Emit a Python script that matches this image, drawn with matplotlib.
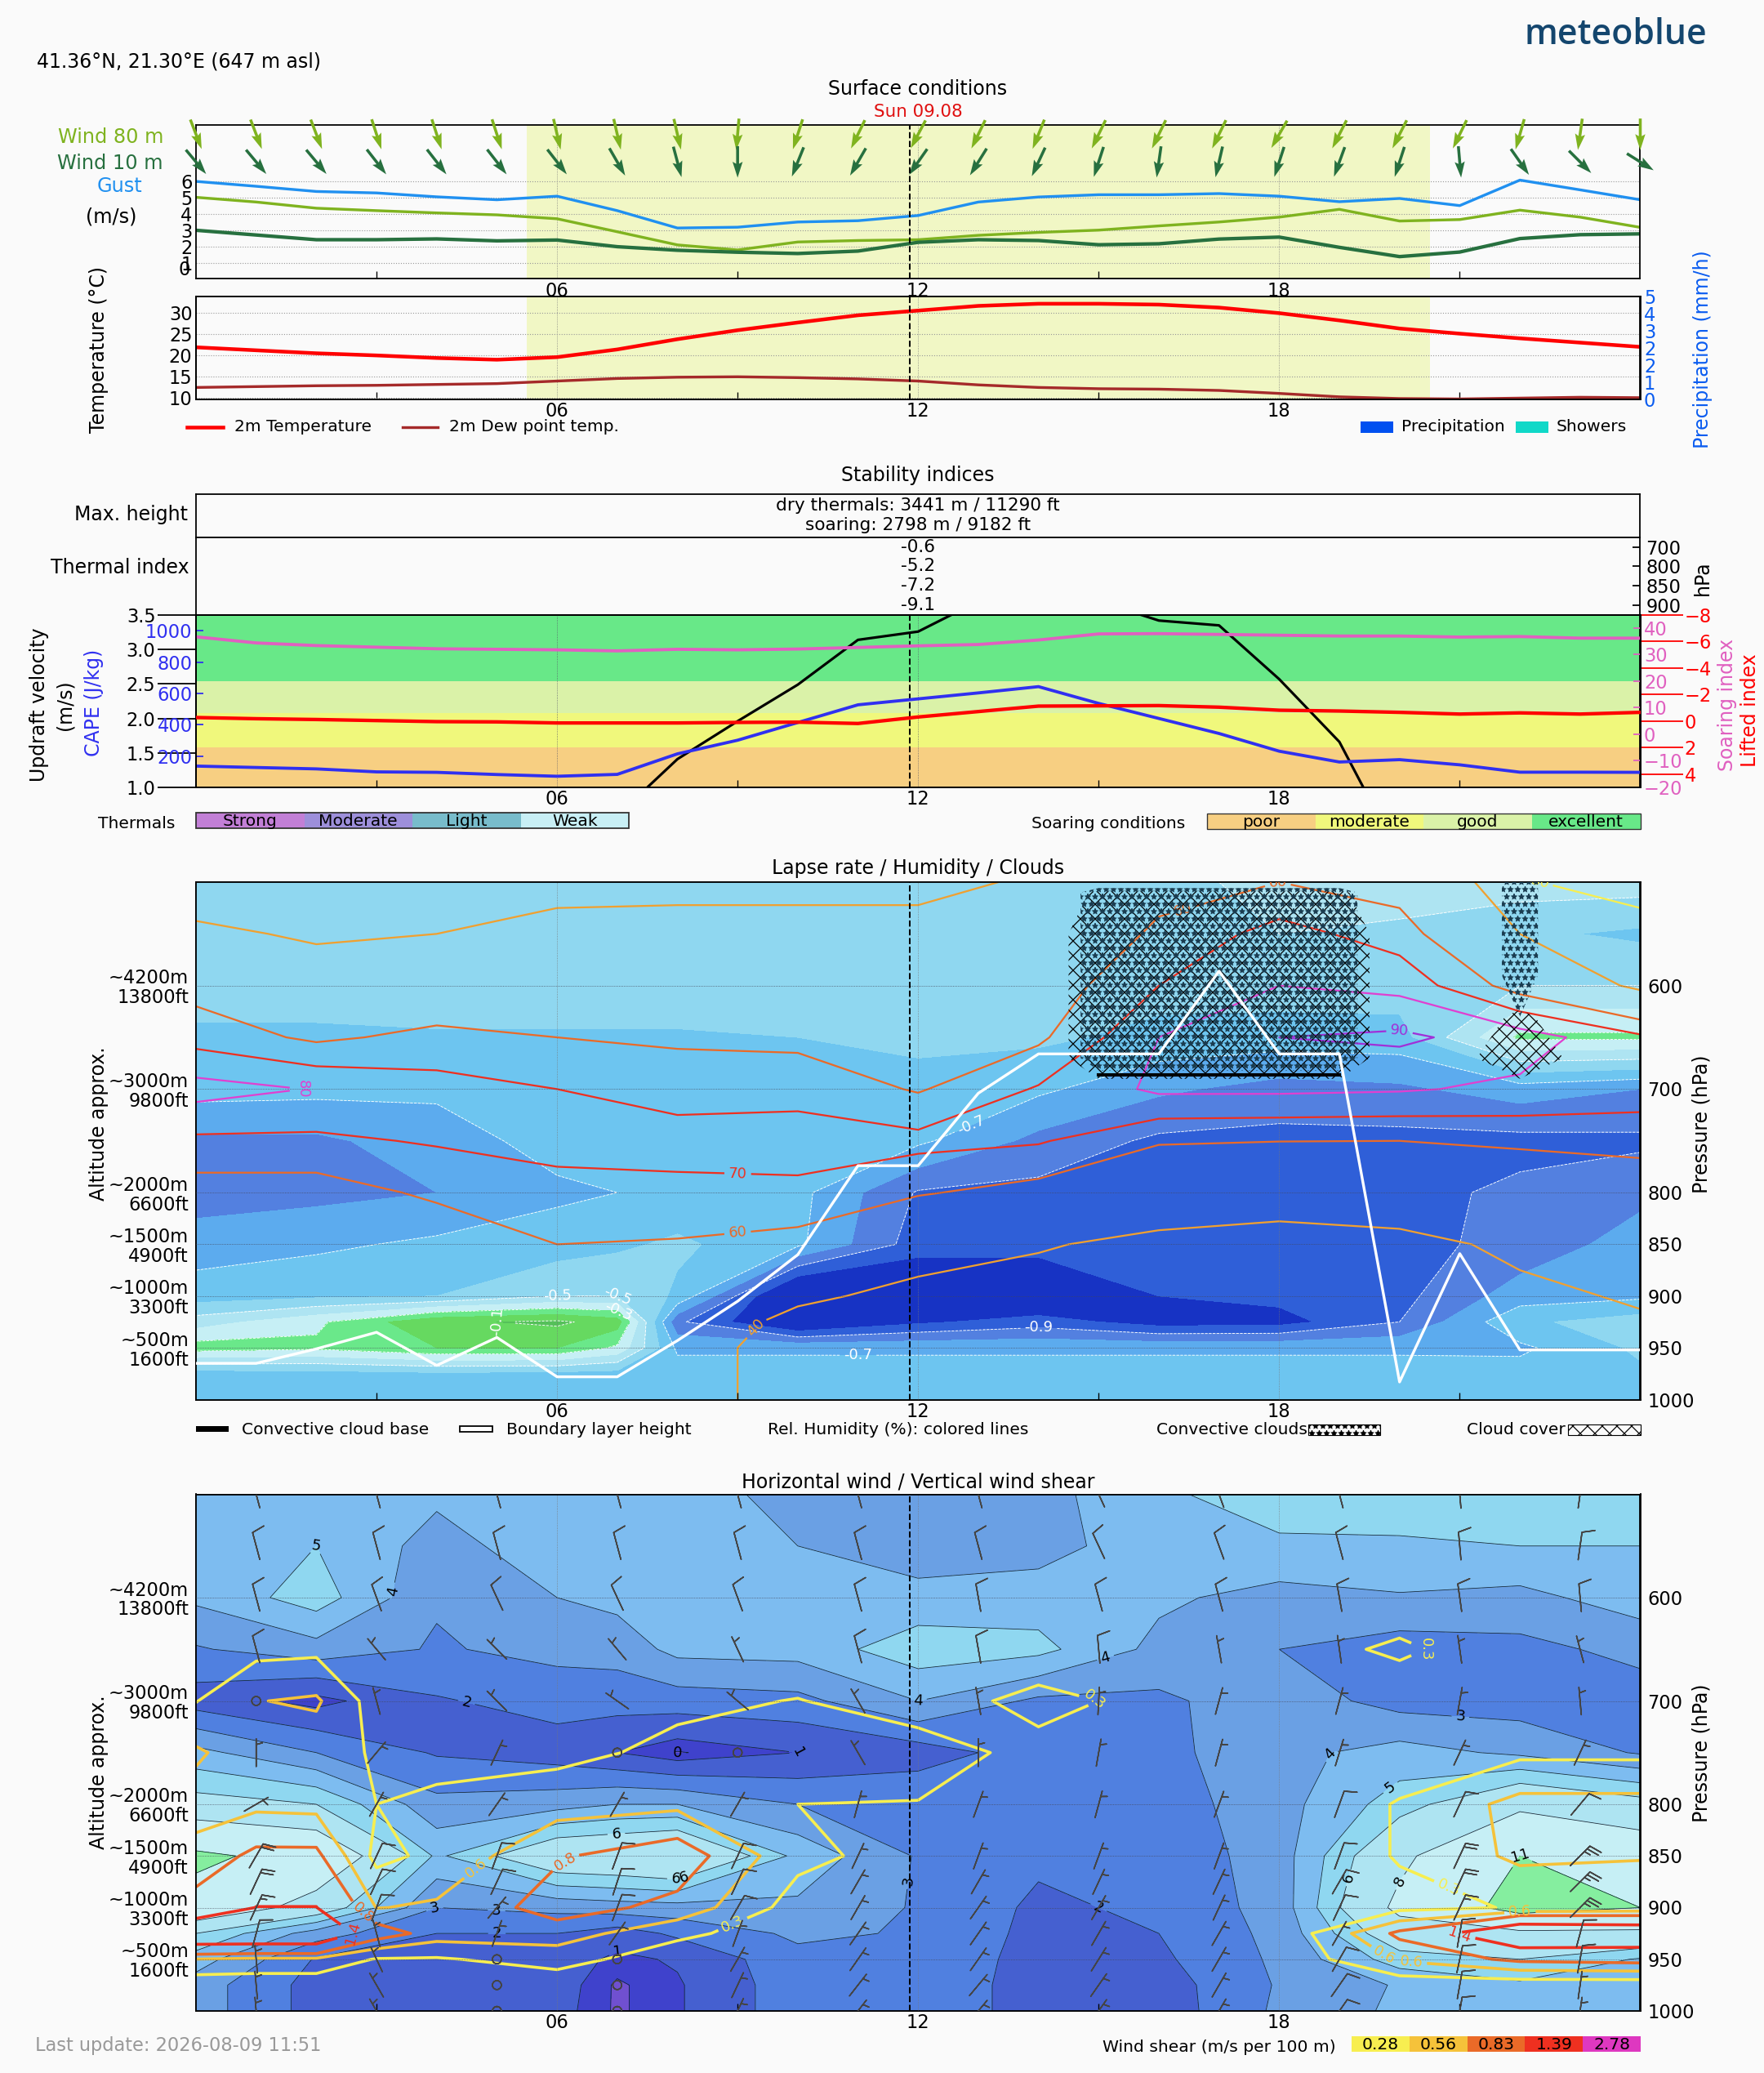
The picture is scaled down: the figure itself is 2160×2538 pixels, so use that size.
import numpy as np
import matplotlib
matplotlib.use('Agg')
import matplotlib.pyplot as plt
from matplotlib.patches import Rectangle

W, H = 2160, 2538
DPI = 162
BG = '#fafafa'

hours = list(range(25))
now_hour = 11.86
day_start, day_end = 5.5, 20.5

gust = [6.0,5.7,5.38,5.29,5.05,4.87,5.09,4.2,3.13,3.18,3.5,3.58,3.9,4.73,5.04,5.18,5.18,5.25,5.09,4.75,4.95,4.51,6.08,5.48,4.87]
wind80 = [5.02,4.73,4.35,4.2,4.06,3.94,3.7,2.9,2.09,1.78,2.27,2.36,2.41,2.68,2.86,3.0,3.26,3.5,3.8,4.28,3.56,3.65,4.23,3.8,3.17]
wind10 = [2.99,2.7,2.41,2.41,2.46,2.34,2.39,1.98,1.76,1.64,1.56,1.71,2.25,2.41,2.36,2.1,2.16,2.45,2.57,1.94,1.37,1.65,2.48,2.72,2.77]
dir80 = [339,339,339,342,342,342,347,347,347,5,18,26,28,26,22,26,26,26,30,27,27,26,16,8,0]
dir10 = [320,320,320,322,322,322,322,330,345,360,22,30,35,32,25,18,8,13,18,20,18,355,325,315,302]

temp2m = [21.9,21.2,20.5,20.0,19.4,19.0,19.6,21.4,23.8,25.9,27.7,29.4,30.5,31.6,32.1,32.1,31.9,31.2,29.9,28.2,26.3,25.1,24.0,23.0,22.0]
dew2m = [12.5,12.7,12.9,13.0,13.2,13.4,14.0,14.6,14.9,15.0,14.8,14.5,14.0,13.1,12.5,12.2,12.1,11.8,11.1,10.3,9.9,9.8,10.0,10.2,10.1]
precip_ticks = ['0','1','2','2','3','4','5']

updraft = [0.5,0.5,0.5,0.5,0.5,0.5,0.5,0.59,1.41,1.96,2.49,3.14,3.26,3.7,3.9,3.7,3.42,3.35,2.57,1.66,0.0,0.0,0.0,0.0,0.0]
cape = [136,127,118,99,96,82,71,83,214,301,414,527,565,603,643,536,440,344,231,162,177,144,97,97,96]
soaring = [36.7,34.4,33.4,32.8,32.2,32.0,31.8,31.4,32.0,31.8,32.1,32.7,33.3,33.8,35.5,37.8,37.9,37.6,37.3,37.0,37.0,36.6,36.8,36.2,36.2]
lifted = [-0.27,-0.18,-0.12,-0.04,0.04,0.06,0.14,0.14,0.14,0.1,0.08,0.18,-0.31,-0.72,-1.13,-1.15,-1.17,-1.05,-0.82,-0.76,-0.66,-0.53,-0.62,-0.53,-0.66]
soaring_edges = [1.0,1.585,2.08,2.54,3.5]
soaring_names = ['poor','moderate','good','excellent']
soaring_colors = ['#f7cf82','#f0f87c','#daf2a8','#68e888']
thermal_names = ['Strong','Moderate','Light','Weak']
thermal_colors = ['#c27fd6','#9d8fda','#78bccb','#c8eff5']
thermal_index = ['-0.6','-5.2','-7.2','-9.1']
thermal_hpa = [700,800,850,900]

pressure = [1000,975,950,925,900,850,800,750,700,650,600,550,500]
lapse_hours = [0,2,4,6,7,8,10,12,14,16,18,20,22,24]
rh_hours = [0,2,4,6,8,10,12,14,16,18,20,22,24]
wind_hours = [0,2,4,6,7,8,10,12,14,16,18,20,22,24]
shear_hours = [0,1,2,3,4,6,8,10,12,14,16,18,20,22,24]

# columns run from 1000 hPa up to 500 hPa
lapse_rate = np.array([
    [-.65,-.65,-.25,-.45,-.65,-.75,-.85,-.82,-.66,-.62,-.55,-.55,-.55],
    [-.65,-.64,-.28,-.32,-.62,-.72,-.83,-.82,-.67,-.62,-.55,-.55,-.55],
    [-.65,-.62,-.2,-.12,-.6,-.68,-.8,-.75,-.68,-.61,-.55,-.55,-.55],
    [-.65,-.63,-.2,-.08,-.5,-.65,-.72,-.66,-.63,-.61,-.55,-.55,-.55],
    [-.65,-.64,-.32,-.15,-.5,-.62,-.7,-.66,-.63,-.61,-.55,-.55,-.55],
    [-.65,-.65,-.72,-.88,-.62,-.58,-.68,-.66,-.63,-.61,-.55,-.55,-.55],
    [-.65,-.65,-.72,-1.15,-1.2,-.68,-.67,-.63,-.62,-.6,-.55,-.55,-.55],
    [-.65,-.65,-.72,-1.02,-1.15,-.95,-.91,-.68,-.63,-.58,-.55,-.55,-.55],
    [-.65,-.65,-.72,-.95,-1.15,-.95,-.93,-.83,-.68,-.58,-.55,-.55,-.55],
    [-.65,-.65,-.72,-1.05,-1.0,-.95,-.93,-.92,-.78,-.63,-.56,-.55,-.52],
    [-.65,-.65,-.72,-1.04,-.97,-.95,-.93,-.93,-.84,-.65,-.55,-.5,-.48],
    [-.65,-.65,-.72,-.9,-.93,-.93,-.93,-.93,-.82,-.64,-.55,-.52,-.45],
    [-.65,-.66,-.72,-.62,-.75,-.87,-.88,-.93,-.75,-.28,-.5,-.58,-.45],
    [-.65,-.62,-.58,-.55,-.72,-.75,-.83,-.92,-.8,-.28,-.5,-.62,-.45],
]).T
lapse_levels = [-1.3,-1.0,-.9,-.8,-.7,-.6,-.5,-.4,-.3,-.2,-.1,0]
lapse_colors = ['#1733c4','#2f5fd8','#5380e0','#5cabee','#6dc5f0','#8fd7f0','#aee4f2','#c6eff5','#6ae88a','#66d960','#55c05a']
lapse_lines = [-.9,-.7,-.5,-.3,-.1]

humidity = np.array([
    [50,50,50,50,50,53,55,68,84,66,56,43,31],
    [50,50,50,50,50,50,55,68,79.5,58,48,38,31],
    [50,50,50,50,50,52,62,71,74,63,50,40,31],
    [46,46,48,50,52,60,67,73,70,60,53,45,35],
    [44,44,44,47,50,59,68,73,67,58,52,45,36],
    [36,36,36,37,42,56,68,74,67,57,52,45,36],
    [35,35,35,35,37,45,61,73,59,54,50,45,36],
    [33,33,33,34,35,41,56,71,71,58,53,48,42],
    [31,31,31,31,32,37,48,61,82,80,70,62,56],
    [31,31,31,31,32,36,45,60.2,82,90,80,74,60],
    [31,31,31,31,33,37,47,60,81,92,77,65,55],
    [32,33,33,35,38,42,47,62.5,78,85,55,40,31],
    [32,33,36,39,41,44,50,65,74,72,37,35,25],
]).T
humidity_levels = [30,40,60,70,80,90]
humidity_colors = ['#f7ee50','#f0a030','#ea6a28','#ee3020','#e040d0','#a030d8']

blh = [965,965,951,935,967,940,978,978,943,905,860,774,774,704,666,666,666,586,666,666,983,859,952,952,952]
cloud_base = [np.nan]*15 + [686,686,686,686,686] + [np.nan]*5

cloud_pressure = [710,670,630,590,550,510,500]
cloud_cover = np.array([
    [0]*25,
    [0]*15 + [1]*5 + [0,.3,1,.3,0],
    [0]*15 + [1]*5 + [0,.2,.6,.2,0],
    [0]*15 + [1]*5 + [0]*5,
    [0]*15 + [1]*5 + [0]*5,
    [0]*15 + [.6]*5 + [0]*5,
    [0]*25,
])
convective = np.array([
    [0]*25,
    [0]*15 + [1]*5 + [0]*5,
    [0]*15 + [1]*5 + [0,0,.7,0,0],
    [0]*15 + [1]*5 + [0,0,1,0,0],
    [0]*15 + [1]*5 + [0,0,1,0,0],
    [0]*15 + [1]*5 + [0,0,1,0,0],
    [0]*15 + [.3]*5 + [0,0,1,0,0],
])

wind_speed = np.array([
    [3.5,3.5,4.5,6,10,11.5,6.5,4.3,1.5,2.9,4.2,4.5,4.5],
    [1.6,1.6,1.9,3.5,7,10,6,3,.7,3.6,5.5,5,4.5],
    [1.5,1.5,1.6,2,3,4.8,3.3,1.9,1.9,2.9,3.1,3.6,4.2],
    [1.3,1.4,1.5,2,3.3,7.3,3.6,1.5,2.4,3.3,4,4.6,4.6],
    [.4,.4,.8,1.5,3.5,7.5,4,1.0,2.4,3.4,4.3,4.7,4.6],
    [.9,.9,1.1,2.2,3.6,8.0,4.0,.45,2.5,4.3,4.7,4.6,4.4],
    [2.6,2.6,2.7,3.2,3.8,4.7,3.0,1.0,2.7,4.4,4.5,4.0,3.7],
    [2.8,2.8,2.8,2.9,2.9,2.9,2.9,1.5,4.0,5.6,4.3,3.5,3.5],
    [1.5,1.5,1.6,1.7,1.8,2.2,2.5,2.5,2.8,5.3,4.5,3.6,3.6],
    [1.4,1.5,1.8,2.0,2.2,2.3,2.5,2.7,2.8,3.7,4.2,4.6,4.9],
    [3.2,3.1,3.2,3.3,3.4,3.5,3.6,3.7,3.6,3.0,3.6,4.9,5.3],
    [4.2,4.1,5.5,7,8.5,7.5,5.5,4.4,2.6,2.5,3.9,4.9,5.4],
    [4.6,4.8,6,7.5,12,11,7.5,3.8,2.5,2.7,3.7,5,5.3],
    [4.5,4.5,4.9,7.5,11,9.5,6.5,2.9,2.5,3.3,4.5,5,5.4],
]).T
wind_levels = [0,.5,1,2,3,4,5,6,8,11,20]
wind_colors = ['#7050d0','#3f42cc','#4560d0','#5080e0','#6aa0e4','#7dbcf0','#8fd7f0','#aee4f2','#c6eff5','#85ee9f']

shear = np.array([
    [.05,.1,.55,2.0,.95,.65,.45,.6,.27,.2,.1,.05,.05],
    [.05,.1,.5,2.0,1.4,.9,.5,.4,.55,.2,.1,.05,.05],
    [.05,.1,.5,2.0,1.4,.9,.48,.4,.6,.22,.1,.05,.05],
    [.05,.1,.26,1.0,.55,.2,.28,.25,.15,.1,.05,.05,.05],
    [.05,.1,.25,.7,.6,.35,.33,.2,.15,.1,.05,.05,.05],
    [.05,.1,.4,.7,.95,.8,.45,.2,.1,.05,.05,.05,.05],
    [.05,.05,.1,.35,.75,1.0,.5,.35,.22,.1,.05,.05,.05],
    [.05,.05,.05,.1,.15,.36,.28,.35,.29,.1,.05,.05,.05],
    [.05,.05,.05,.05,.1,.15,.27,.4,.15,.1,.05,.05,.05],
    [.05,.05,.05,.05,.05,.05,.05,.2,.36,.1,.05,.05,.05],
    [.05,.05,.05,.05,.05,.05,.05,.1,.2,.1,.05,.05,.05],
    [.05,.05,.05,.05,.05,.05,.05,.05,.05,.15,.05,.05,.05],
    [.05,.1,.6,.9,.2,.3,.3,.12,.1,.33,.1,.05,.05],
    [.05,.1,.9,2.0,.3,.62,.65,.22,.1,.1,.05,.05,.05],
    [.05,.1,.95,1.9,.35,.58,.65,.22,.1,.1,.05,.05,.05],
]).T
shear_levels = [.28,.56,.83,1.39,2.78]
shear_colors = ['#f7ee50','#f5c23a','#ea6a28','#ee3020','#de38c0']
shear_names = ['0.28','0.56','0.83','1.39','2.78']

barb_hours = [1,3,5,7,9,11,13,15,17,19,21,23]
barb_pressure = [1000,975,950,925,900,875,850,800,750,700,650,600,550,500]
barb_speed = np.array([
    [5,5,0,0,5,5,5,5,5,10,10,5],
    [5,5,0,0,5,5,5,5,5,10,10,5],
    [5,5,0,0,5,5,5,5,5,10,10,10],
    [10,5,5,5,5,5,5,5,5,5,10,10],
    [15,10,5,10,10,5,5,5,5,10,15,25],
    [20,10,10,10,10,5,5,5,5,10,20,25],
    [20,10,10,10,10,5,5,5,5,10,20,25],
    [5,5,5,5,5,5,5,5,5,10,10,10],
    [5,5,5,0,0,5,5,5,5,5,5,5],
    [0,5,5,5,5,5,5,5,5,5,5,5],
    [10,5,5,5,5,10,10,10,5,5,5,5],
    [10,10,10,10,10,10,10,10,10,10,10,10],
    [10,10,10,10,10,10,10,10,10,10,10,10],
    [10,10,10,10,10,10,10,10,10,10,10,10],
])
barb_dir = np.array([
    [355,330,0,0,25,38,40,35,30,35,10,8],
    [355,330,0,0,25,38,40,35,30,35,10,8],
    [355,335,0,0,30,35,35,32,30,30,12,10],
    [15,345,20,35,20,35,35,30,30,30,10,15],
    [25,20,40,20,30,30,35,30,25,25,25,45],
    [25,25,25,18,25,30,30,25,25,30,25,45],
    [30,25,20,20,25,25,20,20,20,20,25,45],
    [60,30,35,30,30,15,20,15,20,20,25,40],
    [0,40,25,0,0,330,0,10,15,17,25,25],
    [0,345,315,305,310,330,350,3,15,15,10,355],
    [345,320,315,320,335,345,350,355,350,352,352,345],
    [345,340,335,335,340,345,350,345,345,350,352,355],
    [345,345,345,345,345,345,345,335,340,345,355,8],
    [345,345,345,345,345,345,345,335,340,345,355,8],
])

alt_ticks = [600,700,800,850,900,950]
alt_labels = ['~4200m\n13800ft','~3000m\n9800ft','~2000m\n6600ft','~1500m\n4900ft','~1000m\n3300ft','~500m\n1600ft']
hpa_ticks = [600,700,800,850,900,950,1000]

plt.rcParams['font.size'] = 10
plt.rcParams['hatch.linewidth'] = 0.55
plt.rcParams['axes.facecolor'] = BG

fig = plt.figure(figsize=(W / DPI, H / DPI), dpi=DPI, facecolor=BG)


def panel(top, bottom):
    # axes placed from pixel rows of the 2160 wide page
    ax = fig.add_axes([240 / W, 1 - bottom / H, (2008.5 - 240) / W, (bottom - top) / H])
    ax.set_xlim(0, 24)
    ax.set_xticks([6, 12, 18])
    ax.set_xticklabels(['06', '12', '18'])
    ax.set_xticks([3, 9, 15, 21], minor=True)
    ax.tick_params(axis='x', which='major', direction='in', length=0, pad=1.5)
    ax.tick_params(axis='x', which='minor', direction='in', length=4, width=0.6)
    ax.grid(axis='x', color='#777', lw=0.35, ls=':')
    ax.grid(axis='y', color='#999', lw=0.5, ls=':')
    ax.axvline(now_hour, color='k', lw=0.9, ls='--', zorder=8)
    return ax


def pressure_axes(ax):
    ax.set_ylim(1000, 500)
    ax.set_yticks(alt_ticks)
    ax.set_yticklabels(alt_labels, linespacing=1.05)
    ax.tick_params(axis='y', length=0, pad=4)
    ax.grid(axis='y', color='#445', lw=0.35, ls=':')
    ax2 = ax.twinx()
    ax2.set_ylim(1000, 500)
    ax2.set_yticks(hpa_ticks)
    ax2.tick_params(axis='y', length=0, pad=4)
    return ax2


# surface wind
ax1 = panel(152.5, 341.4)
ax1.set_ylim(0, 9.5)
ax1.set_yticks([1, 2, 3, 4, 5, 6])
ax1.set_yticklabels(['1', '2', '3', '4', '5', '6'])
ax1.tick_params(axis='y', length=0, pad=2)
ax1.text(-0.1, 0.55, '0', ha='right', va='center')
ax1.axvspan(day_start, day_end, color='#f1f7c5', lw=0, zorder=0)
ax1.plot(hours, gust, color='#2090f0', lw=1.5)
ax1.plot(hours, wind80, color='#7fb31f', lw=1.5)
ax1.plot(hours, wind10, color='#27703f', lw=1.9)
for rowy, dirs, col in [(8.9, dir80, '#7fb31f'), (7.2, dir10, '#27703f')]:
    rad = np.deg2rad(dirs)
    ax1.quiver(hours, [rowy] * 25, -np.sin(rad), -np.cos(rad), color=col, angles='uv', pivot='middle',
               scale_units='inches', scale=4.2, width=0.002, headwidth=3.5, headlength=5.5, headaxislength=4.8,
               clip_on=False, zorder=6)

# temperature
ax2 = panel(363, 489)
ax2.set_ylim(9.7, 33.8)
ax2.set_yticks([10, 15, 20, 25, 30])
ax2.tick_params(axis='y', length=0, pad=2)
ax2.axvspan(day_start, day_end, color='#f1f7c5', lw=0, zorder=0)
ax2.plot(hours, temp2m, color='#ff0000', lw=2.0)
ax2.plot(hours, dew2m, color='#a52a2a', lw=1.5)
ax2b = ax2.twinx()
ax2b.set_ylim(0, 6)
ax2b.set_yticks(range(7))
ax2b.set_yticklabels(precip_ticks, color='#0a5cf0')
ax2b.tick_params(axis='y', length=0, pad=2)

# stability
ax_box = fig.add_axes([240 / W, 1 - 658 / H, (2008.5 - 240) / W, (658 - 605) / H])
ax_box.set_xticks([])
ax_box.set_yticks([])
ax_top = fig.add_axes([240 / W, 1 - 753 / H, (2008.5 - 240) / W, (753 - 658) / H])
ax_top.set_xticks([])
ax_top.set_ylim(753, 658)
ax_top.yaxis.tick_right()
ax_top.set_yticks([670, 693, 717, 741])
ax_top.set_yticklabels(thermal_hpa)
ax_top.tick_params(axis='y', direction='in', length=4, pad=3)

ax3 = panel(753, 964)
ax3.grid(False)
ax3.axvline(6, color='#556', lw=0.35, ls=':', zorder=3)
ax3.axvline(12, color='#556', lw=0.35, ls=':', zorder=3)
ax3.set_ylim(1, 3.5)
ax3.set_yticks([1, 1.5, 2, 2.5, 3, 3.5])
ax3.set_yticklabels(['1.0', '1.5', '2.0', '2.5', '3.0', '3.5'])
ax3.tick_params(axis='y', direction='out', length=21, pad=1)
for i in range(4):
    ax3.axhspan(soaring_edges[i], soaring_edges[i + 1], color=soaring_colors[i], lw=0, zorder=0)
ax3.plot(hours, updraft, color='k', lw=1.4, zorder=4)

ax3c = ax3.twinx()
ax3c.yaxis.tick_left()
ax3c.set_ylim(0, 1100)
ax3c.set_yticks([200, 400, 600, 800, 1000])
ax3c.tick_params(axis='y', direction='in', length=4, pad=2, colors='#3030f0')
ax3c.plot(hours, cape, color='#3030f0', lw=1.7, zorder=4)

ax3s = ax3.twinx()
ax3s.set_ylim(-20, 44.9)
ax3s.set_yticks([-20, -10, 0, 10, 20, 30, 40])
ax3s.tick_params(axis='y', direction='in', length=4, pad=2, colors='#e060c0')
ax3s.plot(hours, soaring, color='#e060c0', lw=1.7, zorder=4)

ax3l = ax3.twinx()
ax3l.set_ylim(5, -8)
ax3l.set_yticks([-8, -6, -4, -2, 0, 2, 4])
ax3l.tick_params(axis='y', direction='out', length=23, pad=1, colors='#ff0000')
ax3l.plot(hours, lifted, color='#ff0000', lw=1.9, zorder=4)

# lapse rate
ax4 = panel(1080, 1713.5)
ax4r = pressure_axes(ax4)
ax4.contourf(lapse_hours, pressure, lapse_rate, levels=lapse_levels, colors=lapse_colors)
lines = ax4.contour(lapse_hours, pressure, lapse_rate, levels=lapse_lines, colors='w', linewidths=0.4)
ax4.clabel(lines, fmt='%.1f', fontsize=8, colors='w',
           manual=[(6, 867), (7, 901), (7, 916), (5, 923), (11, 957), (13, 750), (14, 936)])
rh = ax4.contour(rh_hours, pressure, humidity, levels=humidity_levels, colors=humidity_colors, linewidths=1.0)
ax4.clabel(rh, fmt='%d', fontsize=8,
           manual=[(9, 787), (9, 839), (9.2, 925), (2, 700), (20, 640), (18, 505), (16.5, 549), (22, 505)])
ax4.contourf(hours, cloud_pressure, cloud_cover, levels=[.5, 2], colors='none', hatches=['xxx'], zorder=5)
with plt.rc_context({'hatch.color': '#1a3c50'}):
    ax4.contourf(hours, cloud_pressure, convective, levels=[.7, 2], colors='none', hatches=['***'], zorder=5)
ax4.plot(hours, blh, color='w', lw=1.5, zorder=6)
ax4.plot(hours, cloud_base, color='k', lw=1.8, zorder=6)
ax4.set_zorder(3)
ax4.set_axisbelow(False)

# wind and shear
ax5 = panel(1829.5, 2462)
ax5r = pressure_axes(ax5)
ax5.contourf(wind_hours, pressure, wind_speed, levels=wind_levels, colors=wind_colors)
wl = ax5.contour(wind_hours, pressure, wind_speed, levels=wind_levels[1:-1], colors='#123', linewidths=0.35)
ax5.clabel(wl, fmt={.5: '0', 1: '1', 2: '2', 3: '3', 4: '4', 5: '5', 6: '6', 8: '8', 11: '11'}, fontsize=8, colors='k',
           manual=[(2, 542), (3.7, 599), (4.5, 700), (10, 748), (8, 750), (12, 704), (7, 842), (8, 850), (8, 875),
                   (5, 896), (4, 907), (5, 920), (7, 938), (12, 875), (15, 900), (21, 725), (15, 634), (18.8, 750),
                   (19.8, 780), (22, 849), (19.4, 875), (20, 875)])
sl = ax5.contour(shear_hours, pressure, shear, levels=shear_levels, colors=shear_colors, linewidths=1.6)
ax5.clabel(sl, fmt={.28: '0.3', .56: '0.6', .83: '0.8', 1.39: '1.4', 2.78: '2.8'}, fontsize=8,
           manual=[(9, 927), (6, 842), (4.5, 850), (2.6, 925), (2.8, 903), (15, 683), (21, 647), (22, 897),
                   (21, 855), (19.7, 950), (20.2, 950), (21, 927)])
bx, by = np.meshgrid(barb_hours, barb_pressure)
brad = np.deg2rad(barb_dir)
ax5.barbs(bx, by, -barb_speed * np.sin(brad), -barb_speed * np.cos(brad), length=5.5, linewidth=0.7,
          color='#444444', pivot='middle', zorder=6, sizes={'height': 0.45, 'spacing': 0.14, 'emptybarb': 0.16})
ax5.set_zorder(3)
ax5.set_axisbelow(False)

# page overlay in pixels, for titles and legends
page = fig.add_axes([0, 0, 1, 1], zorder=20)
page.set_xlim(0, W)
page.set_ylim(H, 0)
page.axis('off')


def txt(x, y, s, ha='center', size=10.5, color='k', rot=0, **kw):
    page.text(x, y, s, ha=ha, va='center', fontsize=size, color=color, rotation=rot, **kw)


def legend_boxes(x0, x1, y0, y1, colors, names, size=9):
    step = (x1 - x0) / len(colors)
    for i, c in enumerate(colors):
        page.add_patch(Rectangle((x0 + i * step, y0), step, y1 - y0, color=c, lw=0))
        txt(x0 + (i + .5) * step, (y0 + y1) / 2 + 1, names[i], size=size)


txt(2090, 43, 'meteoblue', ha='right', size=19, color='#14466e', family='Open Sans', weight='semibold')
txt(45, 75, '41.36°N, 21.30°E (647 m asl)', ha='left')
txt(1124, 109, 'Surface conditions')
txt(1124, 137, 'Sun 09.08', color='#e01010', size=9.5)
txt(200, 168, 'Wind 80 m', ha='right', color='#7fb31f', size=10.7)
txt(200, 200, 'Wind 10 m', ha='right', color='#27703f', size=10.7)
txt(174, 228, 'Gust', ha='right', color='#2090f0', size=10.7)
txt(136, 266, '(m/s)', size=10.7)
txt(121, 428, 'Temperature (°C)', rot=90)
txt(2085, 428, 'Precipitation (mm/h)', rot=90, color='#0a5cf0')

page.plot([229, 273], [523, 523], color='#ff0000', lw=2)
txt(287, 523, '2m Temperature', ha='left', size=9)
page.plot([493, 536], [523, 523], color='#a52a2a', lw=1.5)
txt(550, 523, '2m Dew point temp.', ha='left', size=9)
page.add_patch(Rectangle((1666, 516), 40, 14, color='#0050f0', lw=0))
txt(1716, 523, 'Precipitation', ha='left', size=9)
page.add_patch(Rectangle((1856, 516), 40, 14, color='#10d8c8', lw=0))
txt(1906, 523, 'Showers', ha='left', size=9)

txt(1124, 582, 'Stability indices')
txt(1124, 619, 'dry thermals: 3441 m / 11290 ft', size=9.6)
txt(1124, 643, 'soaring: 2798 m / 9182 ft', size=9.6)
txt(230, 630, 'Max. height', ha='right')
txt(232, 695, 'Thermal index', ha='right')
for yy, s in zip([670, 693, 717, 741], thermal_index):
    txt(1124, yy, s, size=9.6)
txt(2085, 708, 'hPa', rot=90)
txt(48, 863, 'Updraft velocity', rot=90)
txt(80, 863, '(m/s)', rot=90)
txt(115, 860, 'CAPE (J/kg)', rot=90, color='#3030f0')
txt(2115, 863, 'Soaring index', rot=90, color='#e060c0')
txt(2143, 870, 'Lifted index', rot=90, color='#ff0000')
txt(214, 1008, 'Thermals', ha='right', size=9)
legend_boxes(240, 770, 995, 1014, thermal_colors, thermal_names)
page.add_patch(Rectangle((240, 995), 530, 19, fill=False, ec='#333', lw=0.8))
txt(1451, 1008, 'Soaring conditions', ha='right', size=9)
legend_boxes(1478, 2008.5, 996, 1015, soaring_colors, soaring_names)
page.add_patch(Rectangle((1478, 996), 530.5, 19, fill=False, ec='#333', lw=0.6))

txt(1124, 1063, 'Lapse rate / Humidity / Clouds')
txt(121, 1376, 'Altitude approx.', rot=90)
txt(2084, 1376, 'Pressure (hPa)', rot=90)
page.add_patch(Rectangle((240, 1746), 40, 7, color='k', lw=0))
txt(296, 1750, 'Convective cloud base', ha='left', size=9)
page.add_patch(Rectangle((563, 1746), 40, 7, fc='w', ec='k', lw=0.8))
txt(620, 1750, 'Boundary layer height', ha='left', size=9)
txt(940, 1750, 'Rel. Humidity (%): colored lines', ha='left', size=9)
txt(1416, 1751, 'Convective clouds', ha='left', size=9)
page.add_patch(Rectangle((1602, 1744), 88, 13, fill=False, ec='k', lw=0.5, hatch='***'))
txt(1796, 1751, 'Cloud cover', ha='left', size=9)
page.add_patch(Rectangle((1920, 1744), 89, 13, fill=False, ec='k', lw=0.5, hatch='xxx'))

txt(1124, 1814, 'Horizontal wind / Vertical wind shear')
txt(121, 2170, 'Altitude approx.', rot=90)
txt(2084, 2146, 'Pressure (hPa)', rot=90)
txt(43, 2505, 'Last update: 2026-08-09 11:51', ha='left', color='#999999', size=10)
txt(1636, 2506, 'Wind shear (m/s per 100 m)', ha='right', size=9)
legend_boxes(1655, 2009, 2493, 2512, shear_colors, shear_names)

fig.savefig('out.png', dpi=DPI, facecolor=BG)
